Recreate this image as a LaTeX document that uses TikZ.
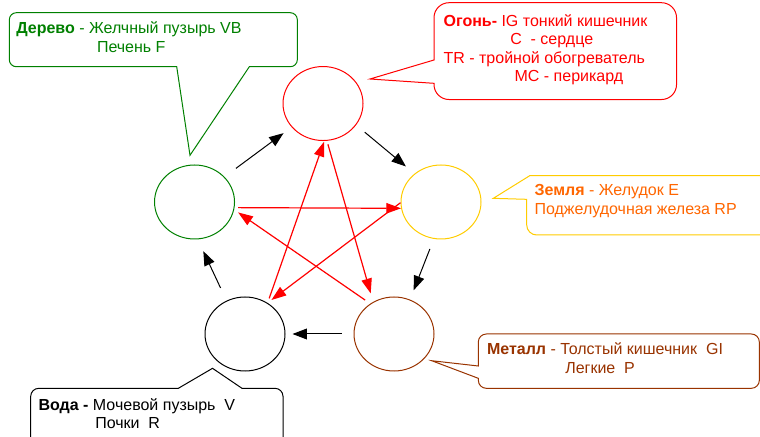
\documentclass[tikz,border=0pt]{standalone}
\usepackage{fontspec}
\setmainfont{Liberation Sans}
\usetikzlibrary{arrows.meta, shapes.geometric}

\begin{document}
\begin{tikzpicture}[
  element/.style={ellipse, draw, line width=0.025cm, minimum width=2.000000cm, minimum height=1.850000cm, inner sep=0pt},
  gen_arrow/.style={line width=0.025cm, -{Triangle[length=0.360000cm, width=0.270000cm]}},
  ctrl_arrow/.style={line width=0.030000cm, draw=fire_red, -{Triangle[length=0.370000cm, width=0.260000cm]}},
  bubble/.style={line width=0.025cm, fill=white},
  note/.style={anchor=base west, inner sep=0pt, font=\fontsize{11.38pt}{13.6pt}\selectfont},
]
\definecolor{wood_green}{RGB}{0,128,0}
\definecolor{fire_red}{RGB}{255,0,0}
\definecolor{earth_yellow}{RGB}{255,204,0}
\definecolor{earth_orange}{RGB}{255,102,0}
\definecolor{metal_brown}{RGB}{153,51,0}
\definecolor{water_black}{RGB}{0,0,0}
\useasboundingbox (0.000000,0.000000) rectangle (19.000000,-10.925000);
% the five elements
\node[element, draw=fire_red] (fire) at (8.075000,-2.588000) {};
\node[element, draw=wood_green] (wood) at (4.863000,-5.050000) {};
\node[element, draw=earth_yellow] (earth) at (11.025000,-5.050000) {};
\node[element, draw=water_black] (water) at (6.125000,-8.350000) {};
\node[element, draw=metal_brown] (metal) at (9.850000,-8.350000) {};
% generating cycle
\draw[gen_arrow, shorten <=0.355000cm, shorten >=0.250000cm] (wood.40) -- (fire.217);
\draw[gen_arrow, shorten <=0.280000cm, shorten >=0.280000cm] (fire.-33) -- (earth.133);
\draw[gen_arrow, shorten <=0.270000cm, shorten >=0.250000cm] (earth.259) -- (metal.65);
\draw[gen_arrow, shorten <=0.300000cm, shorten >=0.175000cm] (metal.180) -- (water.0);
\draw[gen_arrow, shorten <=0.350000cm, shorten >=0.325000cm] (water.119) -- (wood.275);
% controlling cycle
\draw[ctrl_arrow, shorten <=0.090000cm] (wood.-8) -- (earth.189);
\draw[ctrl_arrow, shorten <=0.090000cm, shorten >=0.220000cm] (fire.-84) -- (metal.123);
\draw[ctrl_arrow, shorten >=0.120000cm] (earth.181) -- (water.54);
\draw[ctrl_arrow, shorten <=0.155000cm, shorten >=0.120000cm] (metal.128) -- (wood.-11);
\draw[ctrl_arrow, shorten <=0.120000cm, shorten >=0.020000cm] (water.54) -- (fire.-88);
% wood
\draw[bubble, draw=wood_green] (0.408000,-0.318000) -- (7.258000,-0.318000) arc[start angle=90, end angle=0, radius=0.175000cm] -- (7.433000,-1.493000) arc[start angle=0, end angle=-90, radius=0.175000cm] -- (6.233000,-1.668000) -- (4.750000,-3.883000) -- (4.418000,-1.668000) -- (0.408000,-1.668000) arc[start angle=270, end angle=180, radius=0.175000cm] -- (0.233000,-0.493000) arc[start angle=180, end angle=90, radius=0.175000cm] -- cycle;
\node[note, text=wood_green] (wood_a) at (0.400000,-0.850000) {\textbf{Дерево} - Желчный пузырь VB};
\node[note, text=wood_green] (wood_b) at (2.418000,-1.310000) {Печень F};
% fire
\draw[bubble, draw=fire_red] (11.225000,-0.068000) -- (16.538000,-0.068000) arc[start angle=90, end angle=0, radius=0.375000cm] -- (16.913000,-2.113000) arc[start angle=0, end angle=-90, radius=0.375000cm] -- (11.225000,-2.488000) arc[start angle=270, end angle=180, radius=0.375000cm] -- (10.850000,-2.083000) -- (9.250000,-1.975000) -- (10.850000,-1.500000) -- (10.850000,-0.443000) arc[start angle=180, end angle=90, radius=0.375000cm] -- cycle;
\node[note, text=fire_red] (fire_a) at (11.083000,-0.668000) {\textbf{Огонь-} IG тонкий кишечник};
\node[note, text=fire_red] (fire_b) at (12.750000,-1.125000) {C\ \ - сердце};
\node[note, text=fire_red] (fire_c) at (11.083000,-1.583000) {TR - тройной обогреватель};
\node[note, text=fire_red] (fire_d) at (12.858000,-2.043000) {MC - перикард};
% earth
\draw[bubble, draw=earth_yellow] (13.250000,-4.388000) -- (19.500000,-4.388000) -- (19.500000,-5.875000) -- (13.418000,-5.875000) arc[start angle=270, end angle=180, radius=0.250000cm] -- (13.168000,-4.983000) -- (12.333000,-4.958000) -- cycle;
\node[note, text=earth_orange] (earth_a) at (13.358000,-4.893000) {\textbf{Земля} - Желудок E};
\node[note, text=earth_orange] (earth_b) at (13.358000,-5.358000) {Поджелудочная железа RP};
% metal
\draw[bubble, draw=metal_brown] (12.158000,-8.350000) -- (18.783000,-8.350000) arc[start angle=90, end angle=0, radius=0.200000cm] -- (18.983000,-9.508000) arc[start angle=0, end angle=-90, radius=0.200000cm] -- (12.158000,-9.708000) arc[start angle=270, end angle=180, radius=0.200000cm] -- (11.958000,-9.458000) -- (10.793000,-9.018000) -- (11.958000,-9.150000) -- (11.958000,-8.550000) arc[start angle=180, end angle=90, radius=0.200000cm] -- cycle;
\node[note, text=metal_brown] (metal_a) at (12.168000,-8.875000) {\textbf{Металл} - Толстый кишечник\ \ GI};
\node[note, text=metal_brown] (metal_b) at (14.125000,-9.333000) {Легкие\ \ P};
% water
\draw[bubble, draw=water_black] (0.968000,-9.708000) -- (4.458000,-9.708000) -- (5.313000,-9.208000) -- (6.050000,-9.708000) -- (6.875000,-9.708000) arc[start angle=90, end angle=0, radius=0.200000cm] -- (7.075000,-11.250000) -- (0.768000,-11.250000) -- (0.768000,-9.908000) arc[start angle=180, end angle=90, radius=0.200000cm] -- cycle;
\node[note, text=water_black] (water_a) at (0.958000,-10.250000) {\textbf{Вода -} Мочевой пузырь\ \ V};
\node[note, text=water_black] (water_b) at (2.375000,-10.708000) {Почки\ \ R};
\end{tikzpicture}
\end{document}
